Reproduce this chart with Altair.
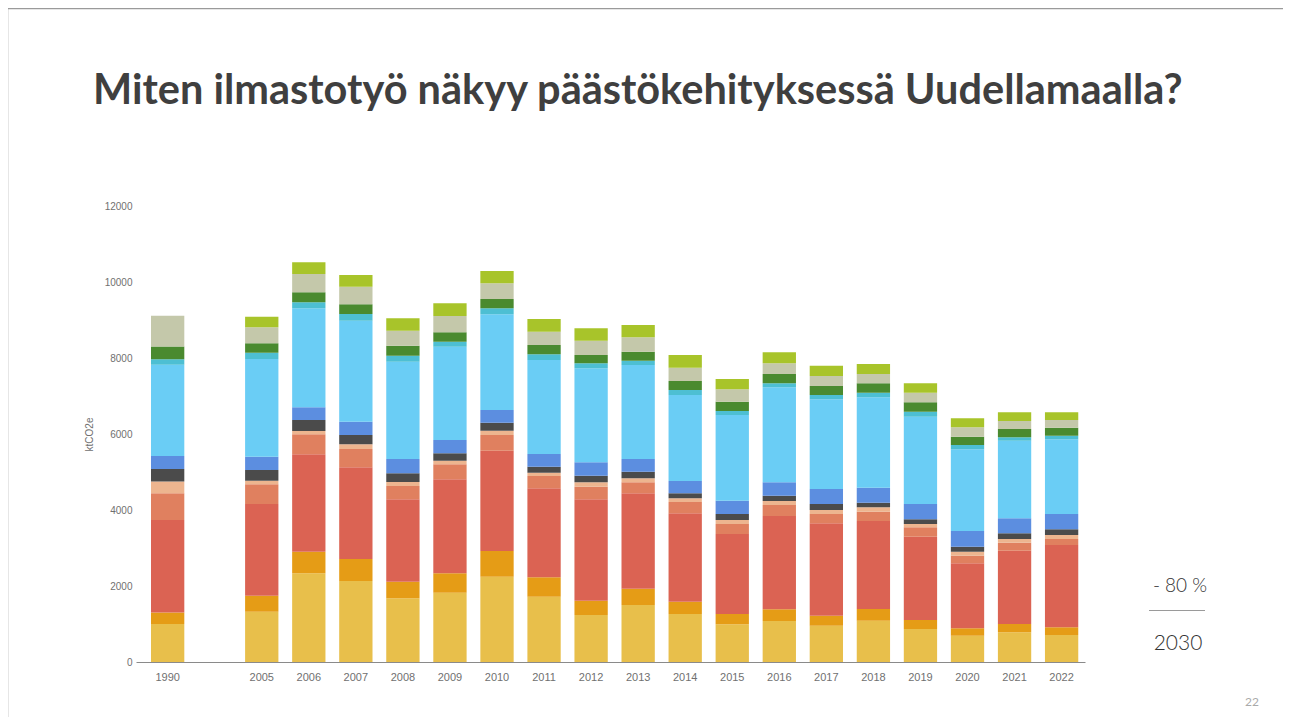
import altair as alt
import pandas as pd

years = ["1990", "2005", "2006", "2007", "2008", "2009", "2010", "2011", "2012", "2013",
         "2014", "2015", "2016", "2017", "2018", "2019", "2020", "2021", "2022"]
x_domain = ["1990", " "] + years[1:]

# ktCO2e per segment, bottom to top
seg_yellow    = [1000, 1325, 2333, 2132, 1675, 1825, 2246, 1719, 1237, 1500, 1263, 991, 1079, 956, 1088, 868, 693, 781, 711]
seg_orange    = [300, 421, 571, 579, 439, 508, 675, 509, 377, 430, 325, 272, 307, 263, 307, 237, 193, 219, 201]
seg_red       = [2440, 2412, 2561, 2412, 2167, 2474, 2640, 2342, 2667, 2509, 2324, 2105, 2456, 2430, 2316, 2193, 1710, 1930, 2167]
seg_salmon    = [700, 517, 526, 482, 351, 395, 413, 325, 333, 289, 299, 264, 290, 246, 245, 246, 202, 210, 158]
seg_peach     = [310, 97, 88, 123, 105, 96, 114, 87, 114, 105, 96, 105, 105, 105, 114, 88, 106, 97, 105]
seg_darkgray  = [330, 281, 289, 246, 228, 193, 210, 158, 176, 176, 132, 158, 140, 158, 123, 123, 131, 149, 149]
seg_blue      = [340, 351, 334, 351, 377, 351, 334, 334, 350, 333, 324, 351, 351, 395, 395, 403, 412, 394, 404]
seg_lightblue = [2400, 2570, 2605, 2658, 2562, 2456, 2517, 2473, 2474, 2474, 2263, 2254, 2500, 2359, 2377, 2298, 2149, 2045, 1965]
seg_teal      = [150, 166, 158, 175, 157, 132, 158, 150, 132, 114, 132, 105, 105, 114, 123, 131, 115, 87, 96]
seg_darkgreen = [330, 246, 263, 255, 264, 245, 246, 245, 219, 237, 237, 246, 246, 237, 245, 246, 219, 220, 211]
seg_graygreen = [810, 421, 482, 464, 394, 430, 412, 351, 377, 377, 351, 324, 281, 263, 246, 255, 245, 210, 201]
seg_lime      = [0, 281, 308, 307, 325, 334, 324, 333, 325, 324, 333, 272, 289, 272, 263, 245, 237, 228, 202]

series = [
    ("s01", seg_yellow, "#E8BF4B"),
    ("s02", seg_orange, "#E59C16"),
    ("s03", seg_red, "#DB6353"),
    ("s04", seg_salmon, "#E0805F"),
    ("s05", seg_peach, "#EDB58F"),
    ("s06", seg_darkgray, "#4B4B4B"),
    ("s07", seg_blue, "#5C8EE0"),
    ("s08", seg_lightblue, "#6ACDF5"),
    ("s09", seg_teal, "#4DBFD3"),
    ("s10", seg_darkgreen, "#4A8A2F"),
    ("s11", seg_graygreen, "#C4C8AA"),
    ("s12", seg_lime, "#A8C42A"),
]

rows = []
for i, (name, vals, col) in enumerate(series):
    for y, v in zip(years, vals):
        rows.append({"year": y, "series": name, "value": v, "order": i})
df = pd.DataFrame(rows)

FONT = "Liberation Sans"

bars = alt.Chart(df).mark_bar().encode(
    x=alt.X("year:N", scale=alt.Scale(domain=x_domain, paddingInner=0.292, paddingOuter=0.231,
                                      align=0.69),
            axis=alt.Axis(title=None, labelAngle=0, ticks=False, domainColor="#8a8a8a",
                          labelColor="#707070", labelFont=FONT, labelFontSize=11, labelPadding=9)),
    y=alt.Y("value:Q", stack="zero", scale=alt.Scale(domain=[0, 12000], nice=False),
            axis=alt.Axis(values=[0, 2000, 4000, 6000, 8000, 10000, 12000], format="d", grid=False,
                          domain=False, ticks=False, labelColor="#707070", labelFont=FONT,
                          labelFontSize=10, labelPadding=4, title="ktCO2e", titleFont=FONT,
                          titleFontSize=10, titleFontWeight="normal", titleColor="#707070",
                          titlePadding=10)),
    color=alt.Color("series:N", scale=alt.Scale(domain=[s[0] for s in series],
                                                range=[s[2] for s in series]), legend=None),
    order=alt.Order("order:Q", sort="ascending"),
)

one = alt.Data(values=[{"a": 1}])

title = alt.Chart(one).mark_text(
    text="Miten ilmastotyö näkyy päästökehityksessä Uudellamaalla?",
    font="Lato", fontSize=41.5, fontWeight="bold", color="#3F3F3F", align="left", baseline="alphabetic"
).encode(x=alt.value(-43), y=alt.value(-102))

pct = alt.Chart(one).mark_text(
    text="- 80 %", font="Lato", fontSize=19, fontWeight=300, color="#333333", align="center",
    baseline="alphabetic"
).encode(x=alt.value(1180 - 136), y=alt.value(592 - 206))

yr = alt.Chart(one).mark_text(
    text="2030", font="Lato", fontSize=21, fontWeight=300, color="#333333", align="center",
    baseline="alphabetic"
).encode(x=alt.value(1178 - 136), y=alt.value(650 - 206))

line = alt.Chart(one).mark_rule(color="#9a9a9a", strokeWidth=1).encode(
    x=alt.value(1149 - 136), x2=alt.value(1205 - 136), y=alt.value(610.5 - 206))

pg = alt.Chart(one).mark_text(
    text="22", font="Lato", fontSize=12, color="#aaaaaa", align="center", baseline="alphabetic"
).encode(x=alt.value(1252 - 136), y=alt.value(706 - 206))

border_top = alt.Chart(one).mark_rule(color="#9a9a9a", strokeWidth=1.5).encode(
    x=alt.value(-129), x2=alt.value(1160), y=alt.value(-197.5))
border_left = alt.Chart(one).mark_rule(color="#9a9a9a", strokeWidth=1.5).encode(
    x=alt.value(-128.5), y=alt.value(-198), y2=alt.value(520))

chart = alt.layer(bars, title, pct, yr, line, pg, border_top, border_left).properties(
    width=949, height=456,
    autosize=alt.AutoSizeParams(type="none"),
    padding={"left": 128, "top": 198, "right": 198, "bottom": 55},
).configure(background="white").configure_view(stroke=None)

chart.save("out.html", embed_options={"renderer": "svg", "actions": False})
